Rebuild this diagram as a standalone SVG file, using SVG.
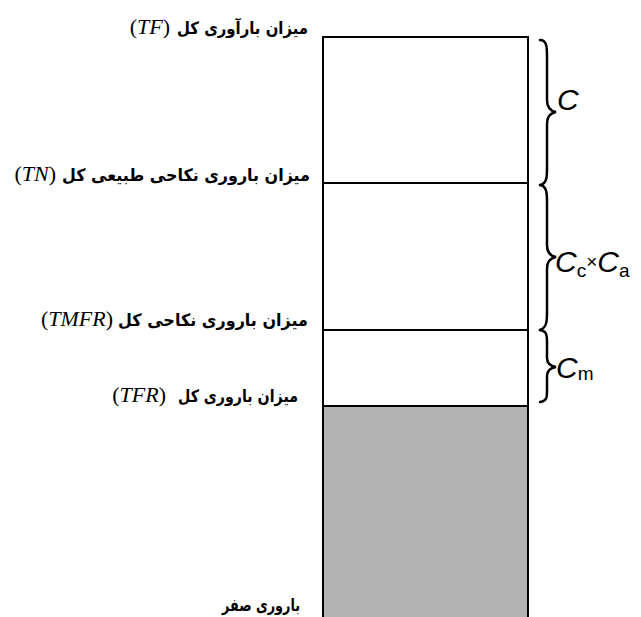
<svg xmlns="http://www.w3.org/2000/svg" width="641" height="617" viewBox="0 0 641 617">
<style>
.ar{font-family:"DejaVu Sans",sans-serif;font-weight:bold;font-size:17px;fill:#000}
.tx{font-family:"Liberation Serif",serif;font-size:22px;fill:#000}
.it{font-style:italic}
.lbl{font-family:"Liberation Sans",Arial,sans-serif;font-style:italic;font-size:30px;fill:#000}
.sub{font-family:"Liberation Sans",Arial,sans-serif;font-size:19px;fill:#000}
.brace{fill:none;stroke:#000;stroke-width:2.5;stroke-linecap:round}
</style>
<rect width="641" height="617" fill="#fff"/>
<g id="bar">
<rect x="323" y="406" width="205" height="215" fill="#b3b3b3" stroke="#000" stroke-width="2"/>
<rect x="323" y="37" width="205" height="369" fill="#fff" stroke="#000" stroke-width="2"/>
<line x1="323" y1="183" x2="528" y2="183" stroke="#000" stroke-width="2"/>
<line x1="323" y1="330" x2="528" y2="330" stroke="#000" stroke-width="2"/>
</g>
<g id="labels">
<text class="ar" x="177" y="34" textLength="131" lengthAdjust="spacingAndGlyphs">میزان بارآوری کل</text>
<text class="tx" x="170" y="34" text-anchor="end">(<tspan class="it">TF</tspan>)</text>
<text class="ar" x="62" y="181" textLength="248" lengthAdjust="spacingAndGlyphs">میزان باروری نکاحی طبیعی کل</text>
<text class="tx" x="56" y="181" text-anchor="end">(<tspan class="it">TN</tspan>)</text>
<text class="ar" x="118" y="326" textLength="190" lengthAdjust="spacingAndGlyphs">میزان باروری نکاحی کل</text>
<text class="tx" x="113" y="326" text-anchor="end">(<tspan class="it">TMFR</tspan>)</text>
<text class="ar" x="178" y="402" textLength="120" lengthAdjust="spacingAndGlyphs">میزان باروری کل</text>
<text class="tx" x="166" y="402" text-anchor="end">(<tspan class="it">TFR</tspan>)</text>
<text class="ar" x="222" y="611" textLength="78" lengthAdjust="spacingAndGlyphs">باروری صفر</text>
</g>
<g id="connectors">
<path class="brace" d="M540,40 C547,40 547,48 547,56 L547,100 C547,107 550,111 556,112 C550,113 547,117 547,124 L547,168 C547,176 547,184 540,185"/>
<path class="brace" d="M540,185 C547,186 547,194 547,202 L547,245 C547,252 550,256 556,257 C550,258 547,262 547,269 L547,312 C547,320 547,328 540,330"/>
<path class="brace" d="M540,330 C547,331 547,336 547,342 L547,358 C547,363 550,366 556,367 C550,368 547,371 547,376 L547,391 C547,397 547,401 540,402"/>
</g>
<g id="brace-labels">
<text class="lbl" x="557" y="110">C</text>
<text class="lbl" x="555" y="272">C<tspan class="sub" dy="5" font-style="normal">c</tspan><tspan class="sub" dy="-9" font-style="normal">×</tspan><tspan dy="4">C</tspan><tspan class="sub" dy="5" font-style="normal">a</tspan></text>
<text class="lbl" x="556" y="378">C<tspan class="sub" dy="2" font-style="normal">m</tspan></text>
</g>
</svg>
